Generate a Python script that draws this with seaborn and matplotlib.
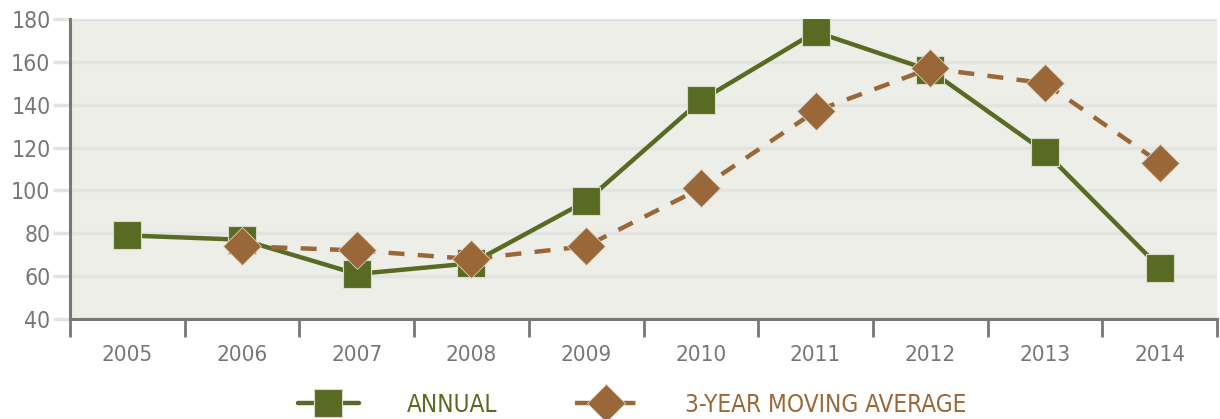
import numpy as np
import pandas as pd
import matplotlib
matplotlib.use("Agg")
import matplotlib.pyplot as plt
import seaborn as sns

years = ["2005", "2006", "2007", "2008", "2009", "2010", "2011", "2012", "2013", "2014"]
annual = [79, 77, 61, 66, 95, 142, 174, 156, 118, 64]
moving_avg = [np.nan, 74, 72, 68, 74, 101, 137, 157, 150, 113]

green = "#596a23"
brown = "#9a6838"
grey = "#777777"

sns.set_theme(style="white")
plt.rcParams["font.family"] = ["DejaVu Sans"]
plt.rcParams["font.stretch"] = "condensed"

df = pd.DataFrame({"pos": np.arange(len(years)), "annual": annual, "avg": moving_avg})

fig = plt.figure(figsize=(12.2, 4.19), dpi=100)
ax = fig.add_axes([70 / 1220, 1 - 319 / 419, (1217 - 70) / 1220, 300 / 419])
ax.set_facecolor("#eeeee9")

sns.lineplot(data=df, x="pos", y="annual", ax=ax, color=green, lw=3.2,
             marker="s", markersize=20, markeredgecolor="#d8dcc8", markeredgewidth=0.8,
             label="ANNUAL", zorder=3)
sns.lineplot(data=df.dropna(), x="pos", y="avg", ax=ax, color=brown, lw=3.2,
             marker="D", markersize=19, markeredgecolor="#e0d0c0", markeredgewidth=0.6,
             label="3-YEAR MOVING AVERAGE", zorder=4)
ax.lines[1].set_dashes([3.6, 3])

ax.set_xlim(-0.5, len(years) - 0.5)
ax.set_ylim(40, 180)
ax.set_yticks(range(40, 181, 20))
ax.set_xticks(df["pos"])
ax.set_xticklabels(years)
ax.set_xticks(np.arange(-0.5, len(years)), minor=True)
ax.tick_params(axis="x", which="major", bottom=False, length=0, pad=19, labelsize=16, labelcolor=grey)
ax.tick_params(axis="x", which="minor", bottom=True, length=13, width=2, color=grey, direction="out")
ax.tick_params(axis="y", which="major", left=True, length=12, width=2.5, color="#e3e3e0",
               labelsize=16.5, labelcolor=grey, pad=2)
ax.yaxis.grid(True, color="#e3e3e0", lw=2.5)
ax.set_axisbelow(True)
ax.set_xlabel("")
ax.set_ylabel("")

for s in ["top", "right"]:
    ax.spines[s].set_visible(False)
for s in ["left", "bottom"]:
    ax.spines[s].set_color(grey)
    ax.spines[s].set_linewidth(2.2)
ax.spines["left"].set_bounds(40, 180)

leg = ax.legend(loc="center", bbox_to_anchor=(0.49, -0.285), ncol=2, frameon=False,
                fontsize=17.5, handlelength=2.5, columnspacing=3.2, handletextpad=2.0)
for txt, c in zip(leg.get_texts(), [green, brown]):
    txt.set_color(c)
# symmetric dash - diamond - dash in the legend key
leg.get_lines()[1].set_dashes([5.6, 2.4])

fig.savefig("out.png", dpi=100)
